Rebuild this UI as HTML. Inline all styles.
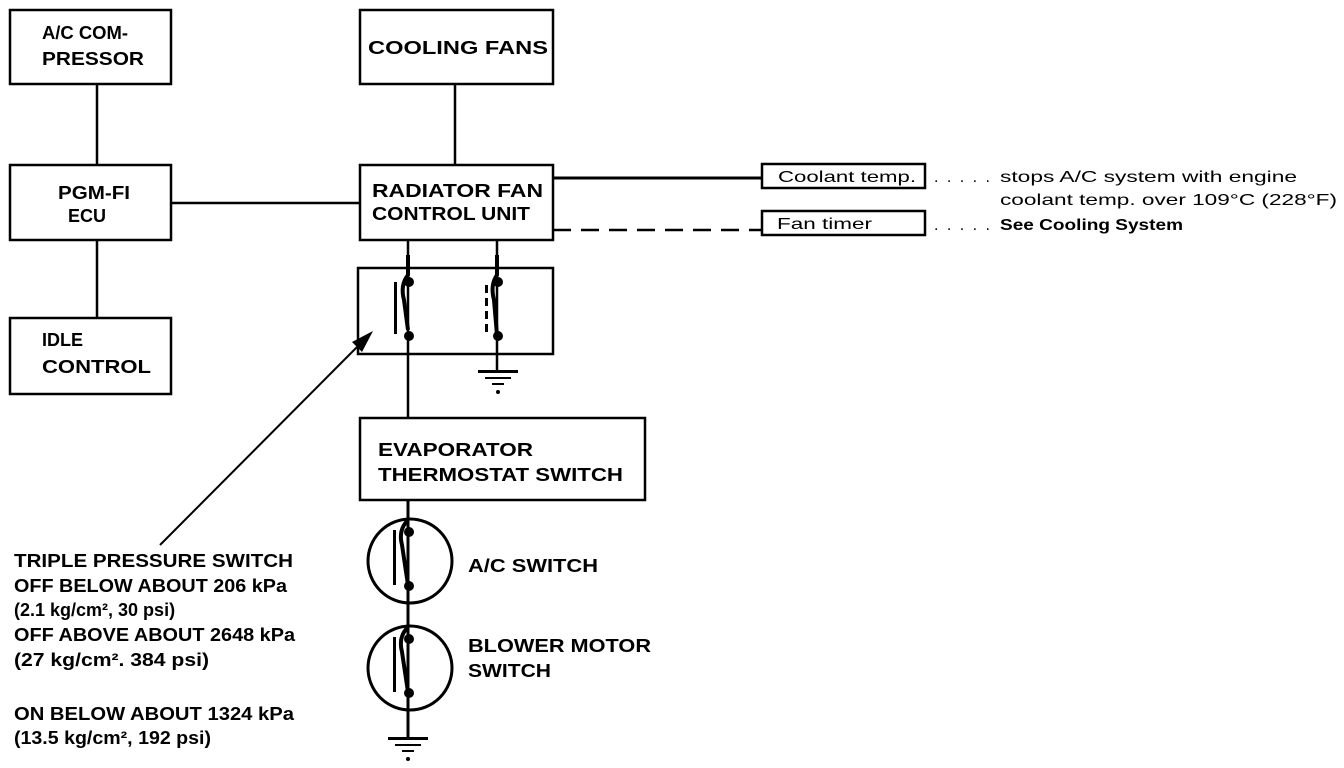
<!DOCTYPE html>
<html><head><meta charset="utf-8"><style>
html,body{margin:0;padding:0;background:#fff;}
svg{display:block;}
text{font-family:"Liberation Sans",sans-serif;font-weight:bold;fill:#000;}
.b{font-size:18px;}
.s{font-size:16px;font-weight:normal;}
</style></head><body>
<svg width="1344" height="768" viewBox="0 0 1344 768" xmlns="http://www.w3.org/2000/svg">
<g fill="none" stroke="#000" stroke-width="2.5">
<rect x="10" y="10" width="161" height="74"/>
<rect x="360" y="10" width="193" height="74"/>
<rect x="10" y="165" width="161" height="75"/>
<rect x="360" y="165" width="193" height="75"/>
<rect x="10" y="318" width="161" height="76"/>
<rect x="358" y="268" width="195" height="86"/>
<rect x="360" y="418" width="285" height="82"/>
<rect x="762" y="164" width="163" height="24"/>
<rect x="762" y="211" width="163" height="24"/>
<line x1="97" y1="84" x2="97" y2="165"/>
<line x1="97" y1="240" x2="97" y2="318"/>
<line x1="171" y1="203" x2="360" y2="203"/>
<line x1="455" y1="84" x2="455" y2="165"/>
<line x1="553" y1="178" x2="762" y2="178" stroke-width="3"/>
<line x1="553" y1="230" x2="762" y2="230" stroke-dasharray="18,10"/>
<line x1="408" y1="240" x2="408" y2="418"/>
<line x1="497" y1="240" x2="497" y2="370"/>
<line x1="408" y1="500" x2="408" y2="738" stroke-width="3"/>
<circle cx="410" cy="561" r="42" stroke-width="3"/>
<circle cx="410" cy="668" r="42" stroke-width="3"/>
<line x1="160" y1="545" x2="366" y2="338" stroke-width="2"/>
</g>
<polygon points="373,331 352,342 362,352" fill="#000"/>
<g stroke="#000" fill="none" stroke-width="4">
<path d="M408,255 L408,275 Q400,285 404,300 L408,330"/>
<path d="M497,255 L497,275 Q490,285 494,300 L497,335"/>
<path d="M408,520 Q398,530 402,545 L408,585"/>
<path d="M408,627 Q398,637 402,652 L408,692"/>
</g>
<g fill="#000">
<circle cx="409" cy="282" r="5"/><circle cx="409" cy="336" r="5"/>
<circle cx="498" cy="282" r="5"/><circle cx="498" cy="336" r="5"/>
<circle cx="409" cy="532" r="5"/><circle cx="409" cy="586" r="5"/>
<circle cx="409" cy="639" r="5"/><circle cx="409" cy="693" r="5"/>
<rect x="394" y="282" width="3" height="52"/>
<rect x="485" y="285" width="3" height="8"/><rect x="485" y="298" width="3" height="8"/><rect x="485" y="311" width="3" height="8"/><rect x="485" y="324" width="3" height="8"/>
<rect x="393" y="530" width="3" height="55"/>
<rect x="393" y="637" width="3" height="55"/>
<rect x="478" y="370" width="40" height="3"/><rect x="485" y="377" width="26" height="2"/><rect x="492" y="383" width="12" height="2"/><circle cx="498" cy="392" r="2"/>
<rect x="388" y="737" width="40" height="3"/><rect x="395" y="744" width="26" height="2"/><rect x="402" y="750" width="12" height="2"/><circle cx="408" cy="759" r="2"/>
</g>
<text class="b" x="42" y="39" textLength="86" lengthAdjust="spacingAndGlyphs">A/C COM-</text>
<text class="b" x="42" y="65" textLength="102" lengthAdjust="spacingAndGlyphs">PRESSOR</text>
<text class="b" x="368" y="54" textLength="180" lengthAdjust="spacingAndGlyphs">COOLING FANS</text>
<text class="b" x="58" y="199" textLength="72" lengthAdjust="spacingAndGlyphs">PGM-FI</text>
<text class="b" x="68" y="222">ECU</text>
<text class="b" x="42" y="346">IDLE</text>
<text class="b" x="42" y="373" textLength="109" lengthAdjust="spacingAndGlyphs">CONTROL</text>
<text class="b" x="372" y="197" textLength="171" lengthAdjust="spacingAndGlyphs">RADIATOR FAN</text>
<text class="b" x="372" y="220" textLength="158" lengthAdjust="spacingAndGlyphs">CONTROL UNIT</text>
<text class="b" x="378" y="456" textLength="155" lengthAdjust="spacingAndGlyphs">EVAPORATOR</text>
<text class="b" x="378" y="481" textLength="245" lengthAdjust="spacingAndGlyphs">THERMOSTAT SWITCH</text>
<text class="b" x="468" y="572" textLength="130" lengthAdjust="spacingAndGlyphs">A/C SWITCH</text>
<text class="b" x="468" y="652" textLength="183" lengthAdjust="spacingAndGlyphs">BLOWER MOTOR</text>
<text class="b" x="468" y="677" textLength="83" lengthAdjust="spacingAndGlyphs">SWITCH</text>
<text class="s" x="778" y="182" textLength="138" lengthAdjust="spacingAndGlyphs">Coolant temp.</text>
<text class="s" x="777" y="229" textLength="95" lengthAdjust="spacingAndGlyphs">Fan timer</text>
<text class="s" x="934" y="182" textLength="56" lengthAdjust="spacing">. . . . .</text>
<text class="s" x="1000" y="182" textLength="297" lengthAdjust="spacingAndGlyphs">stops A/C system with engine</text>
<text class="s" x="1000" y="205" textLength="337" lengthAdjust="spacingAndGlyphs">coolant temp. over 109°C (228°F)</text>
<text class="s" x="934" y="230" textLength="56" lengthAdjust="spacing">. . . . .</text>
<text class="b" x="1000" y="230" textLength="183" lengthAdjust="spacingAndGlyphs" style="font-size:16px">See Cooling System</text>
<text class="b" x="14" y="567" textLength="279" lengthAdjust="spacingAndGlyphs">TRIPLE PRESSURE SWITCH</text>
<text class="b" x="14" y="592" textLength="273" lengthAdjust="spacingAndGlyphs">OFF BELOW ABOUT 206 kPa</text>
<text class="b" x="14" y="616">(2.1 kg/cm², 30 psi)</text>
<text class="b" x="14" y="641" textLength="281" lengthAdjust="spacingAndGlyphs">OFF ABOVE ABOUT 2648 kPa</text>
<text class="b" x="14" y="666" textLength="195" lengthAdjust="spacingAndGlyphs">(27 kg/cm². 384 psi)</text>
<text class="b" x="14" y="720" textLength="280" lengthAdjust="spacingAndGlyphs">ON BELOW ABOUT 1324 kPa</text>
<text class="b" x="14" y="744" textLength="197" lengthAdjust="spacingAndGlyphs">(13.5 kg/cm², 192 psi)</text>
</svg>
</body></html>
